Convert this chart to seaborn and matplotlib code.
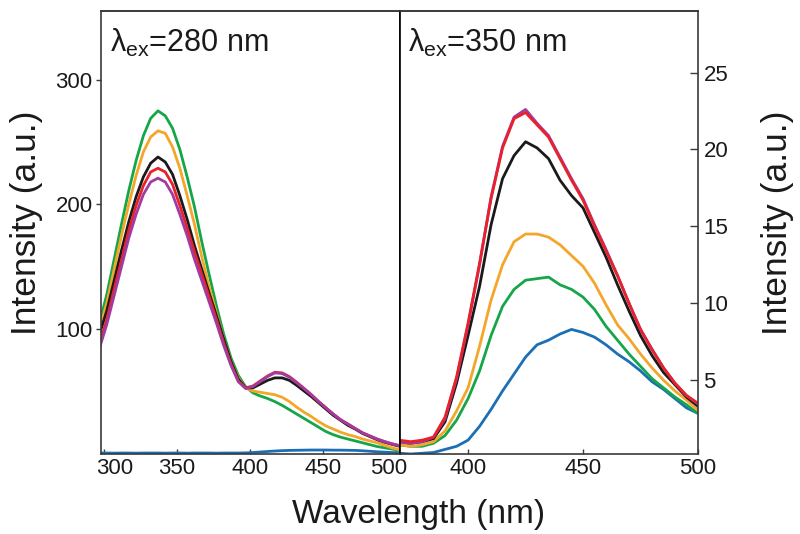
import matplotlib
matplotlib.use('Agg')
import matplotlib.pyplot as plt
import matplotlib.transforms as mtransforms
import seaborn as sns

# emission wavelengths (nm)
wl_280 = list(range(297, 503, 5))
wl_350 = list(range(370, 501, 5))

# excitation at 280 nm
blue_280 = [0.8, 0.8, 0.7, 0.8, 0.8, 0.7, 0.8, 0.8, 0.8, 0.7, 0.8, 0.8, 0.7, 0.8, 0.8,
            0.8, 0.7, 0.8, 0.8, 0.8, 0.9, 1.2, 1.6, 2.0, 2.4, 2.7, 2.9, 3.0, 3.1, 3.2,
            3.2, 3.2, 3.1, 3.1, 3.0, 2.9, 2.6, 2.2, 1.8, 1.5, 1.2, 1.0]
green_280 = [105, 128, 156, 184, 211, 235, 255, 269, 275, 271, 261, 244, 222, 198, 170,
             144, 119, 96, 77, 63, 54, 49, 46.5, 44.5, 42, 39, 35.5, 32, 28.5, 25,
             21.5, 18, 15.5, 13.5, 12, 10.5, 9, 7.5, 6, 5, 4, 3]
orange_280 = [100, 121, 148, 175, 200, 223, 242, 254, 259, 257, 246, 229, 207, 184, 158,
              134, 113, 92, 74, 61, 53, 50.5, 49.5, 48.5, 47.5, 45.5, 42, 37.5, 33.5, 30,
              26, 22.5, 20, 17.5, 15.5, 14, 12, 10.5, 9, 7, 5, 3.5]
black_280 = [96, 115, 139, 163, 186, 206, 222, 233, 238, 234, 224, 207, 188, 167, 148,
             129, 111, 92, 74, 60, 53, 53, 56, 59, 61, 61, 59, 55, 50.5, 46,
             41, 36, 31, 27, 23, 20, 16.5, 14, 11.5, 9.5, 7.8, 6.3]
red_280 = [88, 108, 132, 155, 179, 199, 215, 226, 229, 226, 216, 199, 181, 162, 144,
           126, 108, 89, 72, 58.5, 53, 54.5, 58.5, 62.5, 65.5, 65, 62, 57.5, 52.5, 47.5,
           42, 37, 32, 27.5, 24, 20.5, 17, 14.5, 12, 10, 8.2, 6.8]
purple_280 = [85, 104, 127, 150, 173, 192, 208, 218, 221, 218, 208, 192, 175, 156, 139,
              122, 105, 87, 71, 58, 52.5, 54, 58, 62, 65, 64.5, 61.5, 57, 52.5, 47.5,
              42, 37, 32, 27.5, 24, 20.5, 17, 14.5, 12, 10, 8.2, 6.8]

# excitation at 350 nm
blue_350 = [0.25, 0.2, 0.25, 0.3, 0.5, 0.7, 1.1, 2.0, 3.1, 4.3, 5.4, 6.5, 7.3, 7.6,
            8.0, 8.3, 8.1, 7.8, 7.3, 6.7, 6.2, 5.6, 4.9, 4.4, 3.8, 3.2, 2.84]
green_350 = [0.8, 0.7, 0.7, 0.9, 1.4, 2.4, 3.8, 5.6, 7.9, 9.8, 10.9, 11.5, 11.6, 11.7,
             11.2, 10.9, 10.4, 9.6, 8.5, 7.6, 6.7, 5.9, 5.1, 4.5, 3.9, 3.4, 2.84]
orange_350 = [0.8, 0.7, 0.8, 1.0, 1.7, 3.0, 4.5, 7.2, 10.2, 12.5, 14.0, 14.5, 14.5, 14.3,
              13.8, 13.1, 12.4, 11.3, 9.9, 8.6, 7.7, 6.7, 5.8, 5.0, 4.3, 3.7, 3.05]
black_350 = [1.0, 0.9, 1.0, 1.2, 2.3, 4.8, 7.9, 11.1, 15.1, 18.1, 19.6, 20.5, 20.1, 19.4,
             18.0, 17.0, 16.2, 14.6, 13.0, 11.2, 9.5, 7.9, 6.6, 5.5, 4.7, 3.9, 3.3]
purple_350 = [1.0, 0.9, 1.0, 1.3, 2.5, 5.1, 8.6, 12.5, 16.9, 20.2, 22.1, 22.6, 21.7, 20.9,
              19.5, 18.1, 16.8, 15.1, 13.5, 11.8, 10.0, 8.3, 7.0, 5.8, 4.8, 4.0, 3.45]
red_350 = [1.1, 1.0, 1.1, 1.3, 2.6, 5.2, 8.7, 12.6, 16.8, 20.1, 22.0, 22.4, 21.6, 20.8,
           19.4, 18.0, 16.7, 15.0, 13.4, 11.8, 10.0, 8.3, 7.0, 5.8, 4.8, 4.0, 3.5]

colors = {'blue': '#1b6fb5', 'green': '#16a64a', 'orange': '#f4a62a',
          'black': '#1a1a1a', 'red': '#e8222b', 'purple': '#a23a9f'}

sns.set_style('ticks')
plt.rcParams['font.family'] = ['Liberation Sans', 'DejaVu Sans']
plt.rcParams['mathtext.fontset'] = 'custom'
plt.rcParams['mathtext.rm'] = 'Liberation Sans'
plt.rcParams['mathtext.it'] = 'Liberation Sans:italic'

fig = plt.figure(figsize=(8, 5.34), dpi=100)
ax1 = fig.add_axes([0.12625, 0.1498, 0.37375, 0.8296])
ax2 = fig.add_axes([0.5, 0.1498, 0.3725, 0.8296])

# left panel, purple on top
for name, vals in [('blue', blue_280), ('green', green_280), ('orange', orange_280),
                   ('black', black_280), ('red', red_280), ('purple', purple_280)]:
    sns.lineplot(x=wl_280, y=vals, color=colors[name], linewidth=2.0, ax=ax1)

# right panel, red on top
for name, vals in [('blue', blue_350), ('green', green_350), ('orange', orange_350),
                   ('black', black_350), ('purple', purple_350), ('red', red_350)]:
    sns.lineplot(x=wl_350, y=vals, color=colors[name], linewidth=2.0, ax=ax2)

ax1.set_xlim(298, 502.7)
ax1.set_ylim(0, 355)
ax1.set_xticks([300, 350, 400, 450, 500])
ax1.set_yticks([100, 200, 300])
ax2.set_xlim(370.4, 500)
ax2.set_ylim(0.2, 29)
ax2.set_xticks([400, 450, 500])
ax2.set_yticks([5, 10, 15, 20, 25])
ax2.yaxis.tick_right()

for ax in (ax1, ax2):
    ax.set_xlabel('')
    ax.set_ylabel('')
    for sp in ax.spines.values():
        sp.set_visible(True)
        sp.set_color('#3a3a3a')
        sp.set_linewidth(1.2)
    ax.tick_params(axis='x', direction='in', length=3.6, width=1, colors='#3a3a3a',
                   labelcolor='#1a1a1a', labelsize=16, pad=3)
    # the extra top ticks
    top = ax.secondary_xaxis('top', transform=ax.transAxes)
    top.set_xticks([0.265, 0.529, 0.794])
    top.set_xticklabels([])
    top.tick_params(direction='in', length=3.6, width=1, colors='#3a3a3a')
    top.spines['top'].set_color('#3a3a3a')
    top.spines['top'].set_linewidth(1.2)

ax1.spines['right'].set_color('black')
ax2.spines['left'].set_color('black')
ax1.tick_params(axis='y', direction='out', length=3.6, width=1, colors='#3a3a3a',
                labelcolor='#1a1a1a', labelsize=16, pad=2.5)
ax2.tick_params(axis='y', direction='in', length=5.8, width=1, colors='#3a3a3a',
                labelcolor='#1a1a1a', labelsize=16, pad=4, right=True, left=False)

# nudge the end labels of the left axis inward
xlabels = ax1.get_xticklabels()
xlabels[0].set_transform(xlabels[0].get_transform() +
                         mtransforms.ScaledTranslation(8 / 72, 0, fig.dpi_scale_trans))
xlabels[-1].set_transform(xlabels[-1].get_transform() +
                          mtransforms.ScaledTranslation(-5 / 72, 0, fig.dpi_scale_trans))

ax1.text(0.03, 0.9075, r'λ$_{\mathrm{ex}}$=280 nm', transform=ax1.transAxes,
         fontsize=22, va='baseline', ha='left', color='#1a1a1a')
ax2.text(0.027, 0.9075, r'λ$_{\mathrm{ex}}$=350 nm', transform=ax2.transAxes,
         fontsize=22, va='baseline', ha='left', color='#1a1a1a')

fig.text(27 / 800, 1 - 222.5 / 534, 'Intensity (a.u.)', rotation=90, fontsize=25.5,
         ha='center', va='center', color='#1a1a1a')
fig.text(778 / 800, 1 - 222.5 / 534, 'Intensity (a.u.)', rotation=90, fontsize=25.5,
         ha='center', va='center', color='#1a1a1a')
fig.text(419 / 800, 1 - 523 / 534, 'Wavelength (nm)', fontsize=24,
         ha='center', va='baseline', color='#1a1a1a')

fig.savefig('out.png', dpi=100)
